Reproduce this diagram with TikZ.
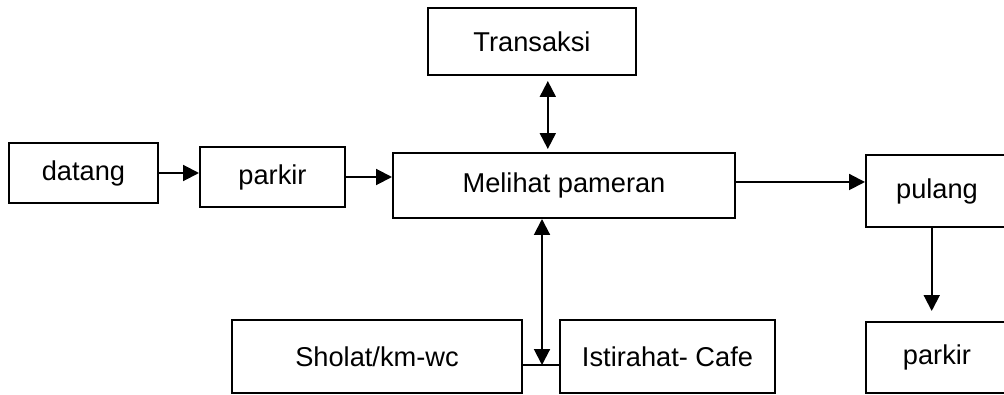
\documentclass[tikz,border=0pt]{standalone}
\usepackage{fontspec}
\setmainfont{Liberation Sans}
\usetikzlibrary{arrows.meta}
\tikzset{
	box/.style={draw, line width=0.4mm, inner sep=0pt, font=\fontsize{15.5}{18}\selectfont},
	link/.style={line width=0.4mm, -{Triangle[length=9pt,width=9pt]}},
	twoway/.style={line width=0.4mm, {Triangle[length=9pt,width=9pt]}-{Triangle[length=9pt,width=9pt]}}
}

\begin{document}
\begin{tikzpicture}[x=0.02cm, y=-0.02cm]
		%%%%% START %%%%%
		
		\useasboundingbox (0, 0) rectangle (1004, 395);
		\clip (0, 0) rectangle (1004, 395);
		
		\node[box, minimum width=149*0.02cm, minimum height=60*0.02cm] (datang) at (83.5, 173) {datang};
		\node[box, minimum width=145*0.02cm, minimum height=60*0.02cm] (parkirA) at (272.5, 177) {parkir};
		\node[box, minimum width=208*0.02cm, minimum height=67*0.02cm] (transaksi) at (532, 41.5) {Transaksi};
		\node[box, minimum width=342*0.02cm, minimum height=65*0.02cm] (melihat) at (564, 185.5) {Melihat pameran};
		\node[box, minimum width=142*0.02cm, minimum height=72*0.02cm] (pulang) at (937, 191) {pulang};
		\node[box, minimum width=142*0.02cm, minimum height=71*0.02cm] (parkirB) at (937, 357.5) {parkir};
		
		\node[box, minimum width=290*0.02cm, minimum height=73*0.02cm] (sholat) at (377, 356.5) {Sholat/km-wc};
		\node[box, minimum width=215*0.02cm, minimum height=73*0.02cm] (istirahat) at (667.5, 356.5) {Istirahat- Cafe};
		
		\coordinate (junc) at (542, 365);
		
		\draw[link] (datang.east) -- (datang.east -| parkirA.west);
		\draw[link] (parkirA.east) -- (parkirA.east -| melihat.west);
		\draw[link] ([yshift=2pt]melihat.east) -- ([yshift=2pt]melihat.east -| pulang.west);
		\draw[link, shorten >=0.2cm] ([xshift=-3pt]pulang.south) -- ([xshift=-3pt]pulang.south |- parkirB.north);
		
		\draw[twoway, shorten <=0.1cm, shorten >=0.06cm] ([xshift=9pt]transaksi.south) -- ([xshift=9pt]transaksi.south |- melihat.north);
		
		\draw[line width=0.4mm] (sholat.east |- junc) -- (istirahat.west |- junc);
		\draw[twoway] (junc |- melihat.south) -- (junc);
		
		%%%%% END %%%%%
\end{tikzpicture}
\end{document}
